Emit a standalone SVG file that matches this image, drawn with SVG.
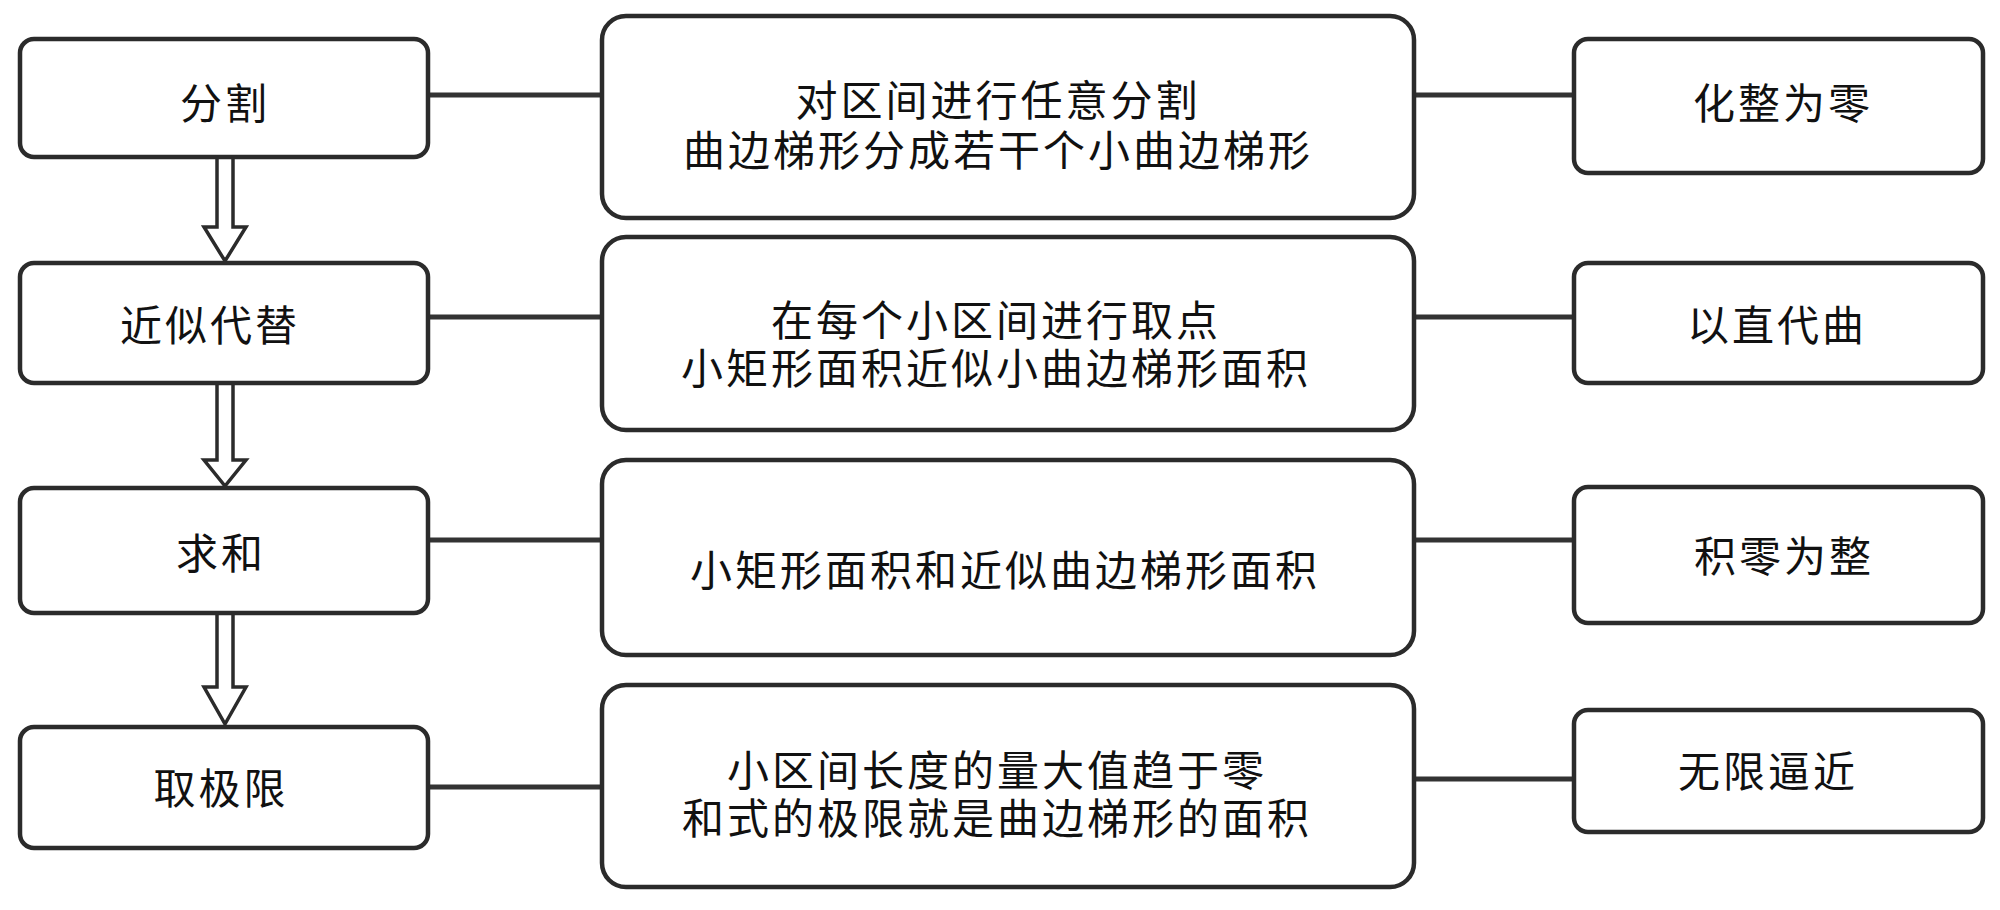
<svg xmlns="http://www.w3.org/2000/svg" width="2000" height="910" viewBox="0 0 2000 910">
<style>
.box{fill:#fff;stroke:#2b2b2b;stroke-width:4.5}
.ln{stroke:#333;stroke-width:5;fill:none}
.arr{fill:#fff;stroke:#2b2b2b;stroke-width:3.5;stroke-linejoin:miter}
text{font-family:"Noto Sans CJK SC","Noto Sans CJK TC",sans-serif;font-size:42px;letter-spacing:3px;fill:#111;text-anchor:middle;dominant-baseline:central}
</style>
<rect width="2000" height="910" fill="#fff"/>
<g id="connectors">
<line class="ln" x1="428" y1="95" x2="602" y2="95"/>
<line class="ln" x1="1414" y1="95" x2="1574" y2="95"/>
<line class="ln" x1="428" y1="317" x2="602" y2="317"/>
<line class="ln" x1="1414" y1="317" x2="1574" y2="317"/>
<line class="ln" x1="428" y1="540" x2="602" y2="540"/>
<line class="ln" x1="1414" y1="540" x2="1574" y2="540"/>
<line class="ln" x1="428" y1="787" x2="602" y2="787"/>
<line class="ln" x1="1414" y1="779" x2="1574" y2="779"/>
<path class="arr" d="M217,159 L217,227 L204,227 L225,261 L246,227 L233,227 L233,159"/>
<path class="arr" d="M217,385 L217,460 L204,460 L225,486 L246,460 L233,460 L233,385"/>
<path class="arr" d="M217,615 L217,687 L204,687 L225,724 L246,687 L233,687 L233,615"/>
</g>
<g id="n1"><rect class="box" x="20" y="39" width="408" height="118" rx="14"/><text x="225" y="100">分割</text></g>
<g id="n2"><rect class="box" x="20" y="263" width="408" height="120" rx="14"/><text x="210" y="322">近似代替</text></g>
<g id="n3"><rect class="box" x="20" y="488" width="408" height="125" rx="14"/><text x="221" y="550">求和</text></g>
<g id="n4"><rect class="box" x="20" y="727" width="408" height="121" rx="14"/><text x="221" y="785">取极限</text></g>
<g id="m1"><rect class="box" x="602" y="16" width="812" height="202" rx="24"/><text x="998" y="97">对区间进行任意分割</text><text x="998" y="147">曲边梯形分成若干个小曲边梯形</text></g>
<g id="m2"><rect class="box" x="602" y="237" width="812" height="193" rx="24"/><text x="996" y="317">在每个小区间进行取点</text><text x="996" y="365">小矩形面积近似小曲边梯形面积</text></g>
<g id="m3"><rect class="box" x="602" y="460" width="812" height="195" rx="24"/><text x="1005" y="567">小矩形面积和近似曲边梯形面积</text></g>
<g id="m4"><rect class="box" x="602" y="685" width="812" height="202" rx="24"/><text x="997" y="767">小区间长度的量大值趋于零</text><text x="997" y="815">和式的极限就是曲边梯形的面积</text></g>
<g id="r1"><rect class="box" x="1574" y="39" width="409" height="134" rx="14"/><text x="1783" y="100">化整为零</text></g>
<g id="r2"><rect class="box" x="1574" y="263" width="409" height="120" rx="14"/><text x="1777" y="322">以直代曲</text></g>
<g id="r3"><rect class="box" x="1574" y="487" width="409" height="136" rx="14"/><text x="1784" y="553">积零为整</text></g>
<g id="r4"><rect class="box" x="1574" y="710" width="409" height="122" rx="14"/><text x="1768" y="768">无限逼近</text></g>
</svg>
